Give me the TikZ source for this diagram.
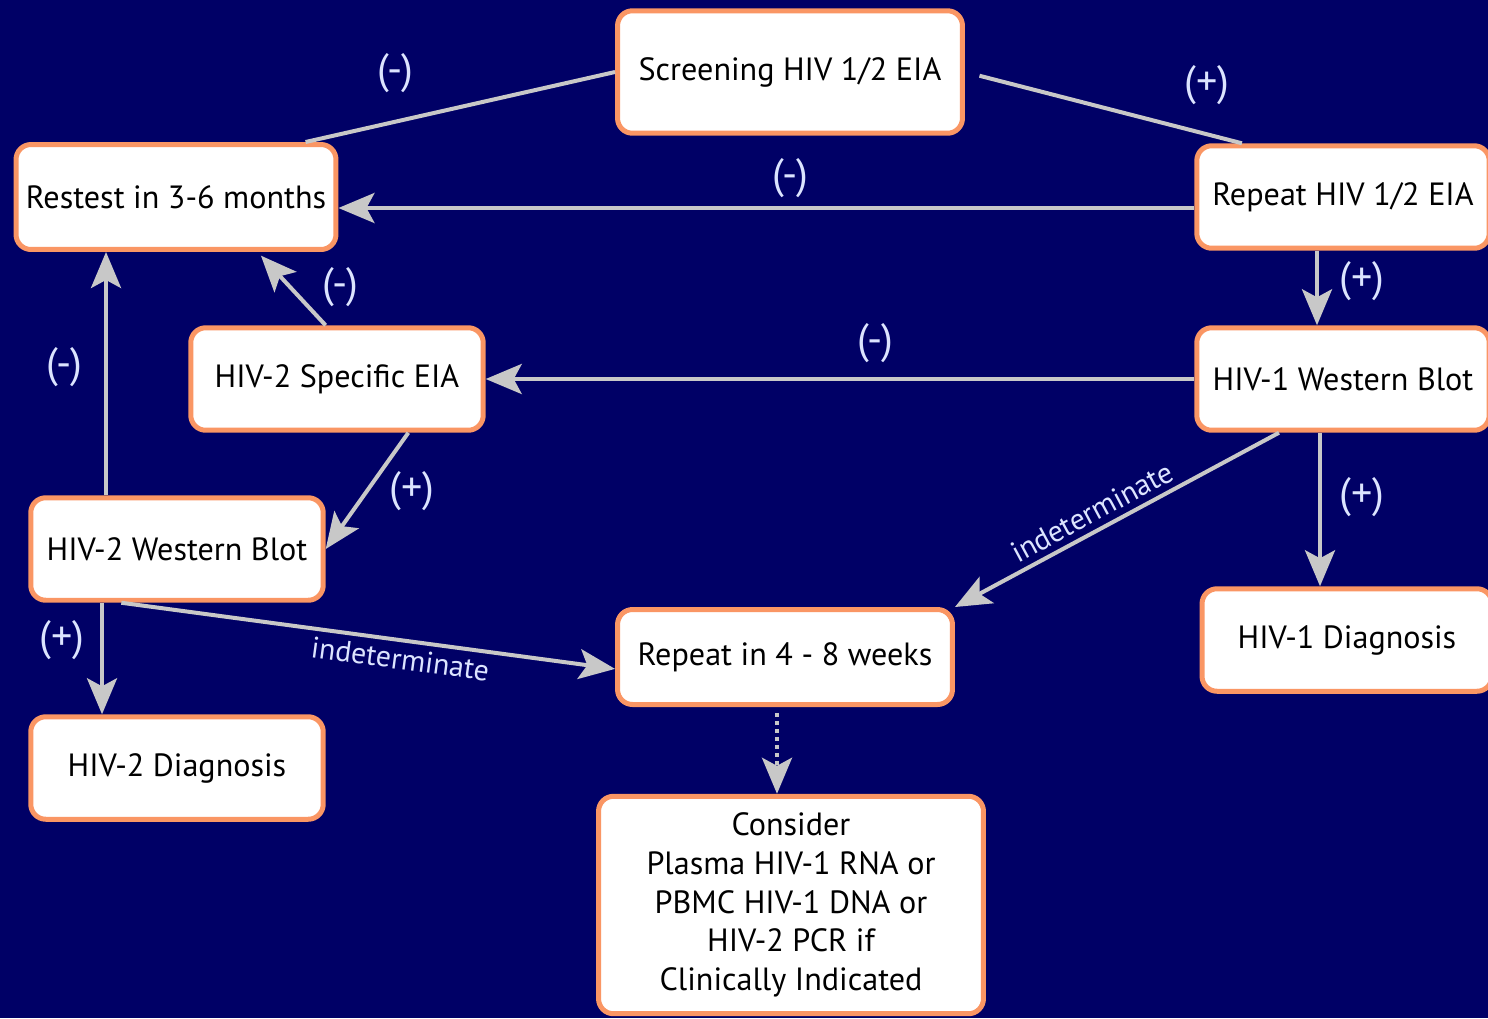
\documentclass[tikz,border=0pt]{standalone}
\usepackage{fontspec}
\setmainfont{PT Sans}
\usetikzlibrary{arrows.meta}
\definecolor{navy}{RGB}{0,0,102}
\definecolor{boxorange}{RGB}{250,150,100}
\definecolor{arrowgray}{RGB}{200,200,200}
\definecolor{labelblue}{RGB}{220,228,255}
\begin{document}
\begin{tikzpicture}[x=0.02cm,y=-0.02cm,
  box/.style={draw=boxorange,line width=0.1cm,fill=white,rounded corners=0.3cm,
    align=center,inner sep=0pt,font=\fontsize{18.3}{22}\selectfont},
  link/.style={draw=arrowgray,line width=0.08cm},
  arr/.style={link,-{Stealth[length=0.72cm,width=0.6cm,inset=0.16cm]}},
  sign/.style={text=labelblue,font=\fontsize{24}{28}\selectfont},
  indet/.style={text=labelblue,font=\fontsize{17}{20}\selectfont}]
\fill[navy] (0,0) rectangle (1488,1018);
\clip (0,0) rectangle (1488,1018);
% Boxes
\node[box,minimum width=6.9cm,minimum height=2.45cm] (screen) at (790,72) {Screening HIV 1/2 EIA};
\node[box,minimum width=6.4cm,minimum height=2.1cm] (restest) at (176,197) {Restest in 3-6 months};
\node[box,minimum width=5.85cm,minimum height=2.05cm] (repeat) at (1343,197) {Repeat HIV 1/2 EIA};
\node[box,minimum width=5.85cm,minimum height=2.05cm] (wbone) at (1343,379) {HIV-1 Western Blot};
\node[box,minimum width=5.85cm,minimum height=2.05cm] (eiatwo) at (337,379) {HIV-2 Specific EIA};
\node[box,minimum width=5.85cm,minimum height=2.05cm] (wbtwo) at (177,549) {HIV-2 Western Blot};
\node[box,minimum width=5.8cm,minimum height=2.05cm] (dxone) at (1347,640) {HIV-1 Diagnosis};
\node[box,minimum width=6.7cm,minimum height=1.9cm] (repfour) at (785,657) {Repeat in 4 - 8 weeks};
\node[box,minimum width=5.85cm,minimum height=2.05cm] (dxtwo) at (177,768) {HIV-2 Diagnosis};
\node[box,minimum width=7.7cm,minimum height=4.35cm] (consider) at (791,905)
  {Consider\\Plasma HIV-1 RNA or\\PBMC HIV-1 DNA or\\HIV-2 PCR if\\Clinically Indicated};
% Connectors
\draw[link] (screen.west) -- (restest.23);
\draw[link,shorten <=0.3cm] (screen.east) -- (repeat.152);
\draw[arr] ([yshift=-0.22cm]repeat.west) -- ([yshift=-0.22cm]restest.east);
\draw[arr] ([xshift=-0.52cm]repeat.south) -- ([xshift=-0.52cm]repeat.south |- wbone.north);
\draw[arr] (wbone.west) -- (eiatwo.east);
\draw[arr,shorten >=0.1cm] (eiatwo.102) -- (restest.-34);
\draw[arr] (eiatwo.-37) -- (wbtwo.east);
\draw[arr] ([xshift=-1.42cm]wbtwo.north) -- ([xshift=-1.42cm]wbtwo.north |- restest.south);
\draw[arr] ([xshift=-1.5cm]wbtwo.south) -- ([xshift=-1.5cm]wbtwo.south |- dxtwo.north);
\draw[arr] (wbtwo.224) -- (repfour.184)
  node[indet,pos=0.57,below,sloped] (indetleft) {indeterminate};
\draw[arr] (wbone.220) -- (repfour.north east)
  node[indet,pos=0.55,above,sloped] (indetright) {indeterminate};
\draw[arr] ([xshift=-0.46cm]wbone.south) -- ([xshift=-0.46cm]wbone.south |- dxone.north);
\draw[arr,dash pattern=on 0.08cm off 0.08cm,shorten <=0.12cm]
  ([xshift=-0.16cm]repfour.south) -- ([xshift=-0.16cm]repfour.south |- consider.north);
% Signs
\node[sign] (sa) at (395,73) {(-)};
\node[sign] (sb) at (1207,85) {(+)};
\node[sign] (sc) at (790,178) {(-)};
\node[sign] (sd) at (1362,281) {(+)};
\node[sign] (se) at (875,343) {(-)};
\node[sign] (sf) at (340,287) {(-)};
\node[sign] (sg) at (412,491) {(+)};
\node[sign] (sh) at (64,367) {(-)};
\node[sign] (si) at (62,640) {(+)};
\node[sign] (sj) at (1362,497) {(+)};
\end{tikzpicture}
\end{document}
